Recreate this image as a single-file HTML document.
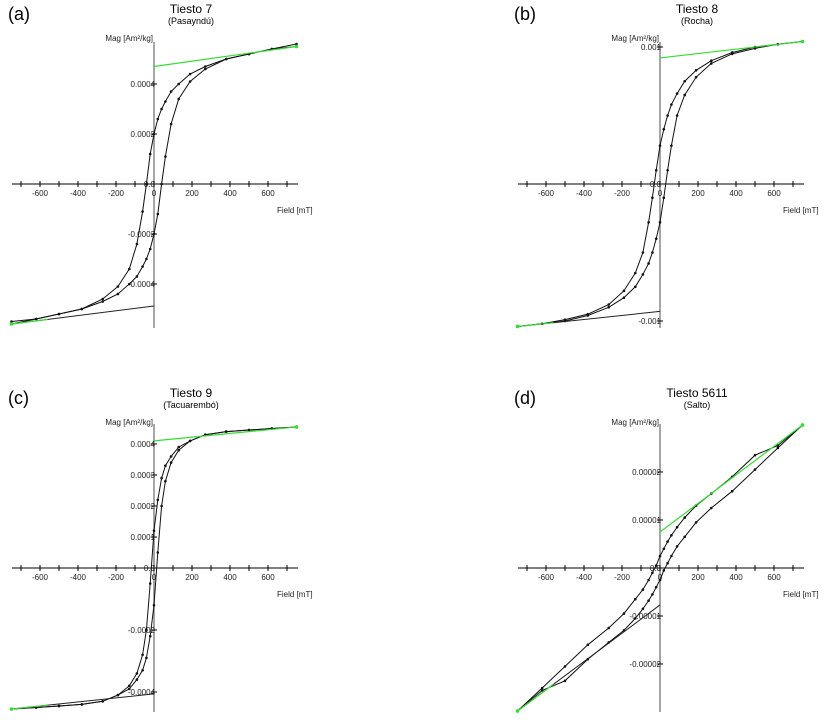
<!DOCTYPE html>
<html><head><meta charset="utf-8"><style>
html,body{margin:0;padding:0;background:#fff;}
svg{display:block;font-family:"Liberation Sans",sans-serif;}
</style></head><body>
<svg id="chart" width="831" height="722" viewBox="0 0 831 722" xmlns="http://www.w3.org/2000/svg"></svg>
<script>
// Shared field values (mT) for descending (upper) branch, high to low
const fields = [750,620,500,380,270,190,130,90,60,40,20,0,-20,-40,-60,-90,-130,-190,-270,-380,-500,-620,-750];
// Panel categories
const panelNames = ["a","b","c","d"];
const panelTitles = ["Tiesto 7","Tiesto 8","Tiesto 9","Tiesto 5611"];
const panelSubtitles = ["(Pasayndú)","(Rocha)","(Tacuarembó)","(Salto)"];
// Upper branch magnetization (Am²/kg), per panel
const upperA = [0.00055,0.00054,0.00052,0.0005,0.00047,0.00044,0.0004,0.00037,0.00033,0.0003,0.00026,0.0002,0.00012,0.0,-0.00011,-0.00024,-0.00034,-0.00041,-0.00046,-0.0005,-0.00052,-0.00054,-0.00056];
const upperB = [0.00104,0.00102,0.001,0.00096,0.0009,0.00083,0.00075,0.00066,0.00058,0.0005,0.0004,0.00028,0.0001,-0.0001,-0.00028,-0.0005,-0.00065,-0.00078,-0.00088,-0.00095,-0.00099,-0.00102,-0.00104];
const upperC = [0.000455,0.00045,0.000445,0.00044,0.00043,0.00041,0.00039,0.00036,0.00033,0.00029,0.00022,0.00012,-0.00005,-0.0002,-0.00028,-0.00034,-0.00038,-0.00041,-0.00043,-0.00044,-0.000445,-0.00045,-0.000455];
const upperD = [0.0000298,0.0000255,0.0000235,0.000019,0.0000155,0.000013,0.0000105,0.0000085,0.0000068,0.0000055,0.000004,0.0000025,0.0000005,-0.000001,-0.0000025,-0.0000045,-0.0000065,-0.0000095,-0.0000125,-0.000016,-0.0000205,-0.000025,-0.0000298];
// High-field linear fit: intercept at H=0 (positive side) and negative-side intercept
const fitIntercepts = [0.00047,0.00092,0.00041,0.0000075];
const negIntercepts = [-0.000488,-0.00093,-0.000406,-0.0000077];
// Y tick labels per panel
const yTicksA = [0.0004,0.0002,0.0,-0.0002,-0.0004];
const yTickLabelsA = ["0.0004","0.0002","0.0","-0.0002","-0.0004"];
const yTicksB = [0.001,0.0,-0.001];
const yTickLabelsB = ["0.001","0.0","-0.001"];
const yTicksC = [0.0004,0.0003,0.0002,0.0001,0.0,-0.0002,-0.0004];
const yTickLabelsC = ["0.0004","0.0003","0.0002","0.0001","0.0","-0.0002","-0.0004"];
const yTicksD = [0.00002,0.00001,0.0,-0.00001,-0.00002];
const yTickLabelsD = ["0.00002","0.00001","0.0","-0.00001","-0.00002"];
const xTicks = [-600,-400,-200,0,200,400,600];

const uppers=[upperA,upperB,upperC,upperD];
const yT=[yTicksA,yTicksB,yTicksC,yTicksD];
const yL=[yTickLabelsA,yTickLabelsB,yTickLabelsC,yTickLabelsD];
const layout=[
 {ox:154,oy:184,ys:250000/1,top:42,bot:328},
 {ox:660,oy:184,ys:137000,top:42,bot:328},
 {ox:154,oy:568,ys:310000,top:424,bot:712},
 {ox:660,oy:568,ys:4800000,top:424,bot:712}
];
layout[0].ys=250000; // px per Am2/kg
const NS="http://www.w3.org/2000/svg";
const svg=document.getElementById('chart');
function mk(t,a,p){const e=document.createElementNS(NS,t);for(const k in a)e.setAttribute(k,a[k]);(p||svg).appendChild(e);return e;}
const kx=0.19;

for(let i=0;i<4;i++){
 const L=layout[i];
 const g=mk('g',{});
 
 
 const X=h=>L.ox+h*kx, Y=m=>L.oy-m*L.ys;
 // labels
 let t=mk('text',{x:L.ox-146,y:L.oy-164,'font-size':18,fill:'#000'},g);t.textContent='('+panelNames[i]+')';
 
 
 t=mk('text',{x:L.ox+37,y:L.oy-171,'font-size':12,'text-anchor':'middle',fill:'#000'},g);t.textContent=panelTitles[i];
 
 
 t=mk('text',{x:L.ox+37,y:L.oy-160,'font-size':9,'text-anchor':'middle',fill:'#000'},g);t.textContent=panelSubtitles[i];
 
 
 t=mk('text',{x:L.ox-1,y:L.oy-143,'font-size':8,'text-anchor':'end',fill:'#222'},g);t.textContent='Mag [Am²/kg]';
 
 
 t=mk('text',{x:L.ox+123,y:L.oy+29,'font-size':8,fill:'#222'},g);t.textContent='Field [mT]';
 
 
 // axes
 mk('line',{x1:L.ox-142,x2:L.ox+144,y1:L.oy,y2:L.oy,stroke:'#000','stroke-width':1},g);
 mk('line',{x1:L.ox,x2:L.ox,y1:L.top,y2:L.bot,stroke:'#888','stroke-width':1.5},g);
 for(let h=-700;h<=700;h+=100){mk('line',{x1:X(h),x2:X(h),y1:L.oy-3,y2:L.oy+3,stroke:'#000','stroke-width':1},g);}
 xTicks.forEach(h=>{const tt=mk('text',{x:X(h),y:L.oy+12,'font-size':8,'text-anchor':'middle',fill:'#222'},g);tt.textContent=String(h);
  
  });
 yT[i].forEach((v,j)=>{mk('line',{x1:L.ox-3,x2:L.ox+3,y1:Y(v),y2:Y(v),stroke:'#000'},g);
  const tt=mk('text',{x:L.ox+1,y:Y(v)+3,'font-size':8,'text-anchor':'end',fill:'#222'},g);tt.textContent=yL[i][j];
  
  });
 // branches
 const up=uppers[i];
 const upPts=fields.map((h,k)=>[X(h),Y(up[k])]);
 const loPts=fields.map((h,k)=>[X(-h),Y(-up[k])]);
 [upPts,loPts].forEach((pts,b)=>{
  const pl=mk('polyline',{points:pts.map(p=>p.join(',')).join(' '),fill:'none',stroke:'#111','stroke-width':1},g);
  
  
  pts.forEach(p=>mk('circle',{cx:p[0],cy:p[1],r:1.3,fill:'#111'},g));
 });
 // fits
 const fit=mk('line',{x1:X(0),y1:Y(fitIntercepts[i]),x2:X(750),y2:Y(up[0]),stroke:'#33dd33','stroke-width':1.2},g);
 
 
 const nf=mk('line',{x1:X(-750),y1:Y(up[22]),x2:X(0),y2:Y(negIntercepts[i]),stroke:'#222','stroke-width':1},g);
 
 
 mk('line',{x1:X(-750),y1:Y(up[22]),x2:X(-560),y2:Y(up[22]+(negIntercepts[i]-up[22])*190/750),stroke:'#33dd33','stroke-width':1.2},g);
 mk('circle',{cx:X(750),cy:Y(up[0]),r:1.8,fill:'#33dd33'},g);
 mk('circle',{cx:X(-750),cy:Y(up[22]),r:1.8,fill:'#33dd33'},g);
}
</script>
</body></html>
